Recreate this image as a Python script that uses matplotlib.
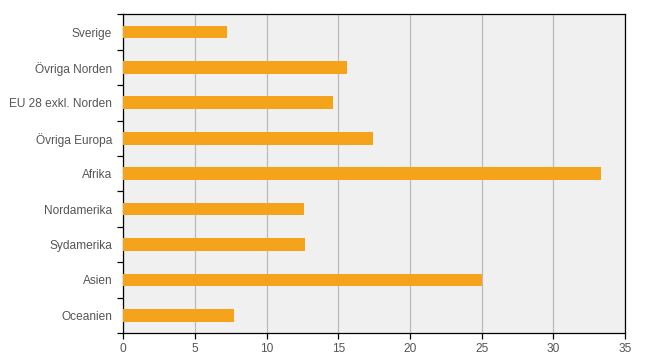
import matplotlib.pyplot as plt
import numpy as np

plt.rcParams['font.family'] = ['Liberation Sans', 'DejaVu Sans']

regions = ['Sverige', 'Övriga Norden', 'EU 28 exkl. Norden', 'Övriga Europa',
           'Afrika', 'Nordamerika', 'Sydamerika', 'Asien', 'Oceanien']
values = [7.2, 15.6, 14.6, 17.4, 33.3, 12.6, 12.7, 25.0, 7.7]
xticks = [0, 5, 10, 15, 20, 25, 30, 35]

fig = plt.figure(figsize=(6.47, 3.63), dpi=100)
ax = fig.add_axes([123.3 / 647, 1 - 333 / 363, (625 - 123.3) / 647, (333 - 14.3) / 363])
ax.set_facecolor('#f0f0f0')

y = np.arange(len(regions))
ax.barh(y, values, height=0.36, color='#f5a31a', zorder=3)

ax.set_xlim(0, 35)
ax.set_ylim(len(regions) - 0.5, -0.5)
ax.set_xticks(xticks)
ax.set_xticklabels([str(t) for t in xticks])
ax.set_yticks(y)
ax.set_yticklabels(regions)
ax.set_yticks(np.arange(len(regions) + 1) - 0.5, minor=True)

ax.grid(axis='x', color='#bbbbbb', linewidth=0.9, zorder=1)
ax.tick_params(axis='y', which='major', length=0, pad=8, labelsize=8.6, labelcolor='#555555')
ax.tick_params(axis='y', which='minor', length=4, width=0.9, color='black')
ax.tick_params(axis='x', which='major', length=4, width=0.9, color='black', pad=3,
               labelsize=8.6, labelcolor='#555555')

for s in ax.spines.values():
    s.set_color('black')
    s.set_linewidth(0.9)

fig.savefig('out.png', dpi=100)
